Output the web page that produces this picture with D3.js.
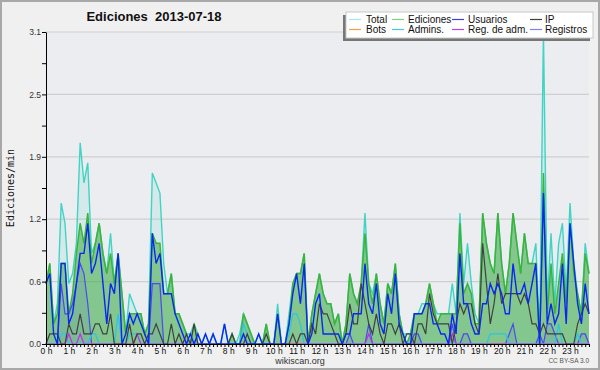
<!DOCTYPE html>
<html><head><meta charset="utf-8">
<script src="https://cdn.jsdelivr.net/npm/d3@7"></script>
<style>
html,body{margin:0;padding:0;background:#f0f0f0;}
svg{display:block;}
</style></head>
<body>
<script>
// ---- DATA (values in edits per minute; 10-minute bins, 144 per day) ----
const hourLabels = ["0 h","1 h","2 h","3 h","4 h","5 h","6 h","7 h","8 h","9 h","10 h","11 h","12 h","13 h","14 h","15 h","16 h","17 h","18 h","19 h","20 h","21 h","22 h","23 h"];
const yTickValues = [0, 0.62, 1.24, 1.86, 2.48, 3.1];
const yTickLabels = ["0.0","0.6","1.2","1.9","2.5","3.1"];
const legendLabels = ["Total","Ediciones","Usuarios","IP","Bots","Admins.","Reg. de adm.","Registros"];

const totalVals = [0.6,0.8,0.2,0.4,1.4,1.2, 0.6,0.7,1.0,2.0,1.6,1.8, 0.9,1.0,1.2,0.9,0.7,1.1, 0.6,0.9,0.5,0.1,0.5,0.4,
 0.3,0.3,0.1,0.2,1.7,1.6, 1.5,0.8,0.5,0.7,0.3,0.3, 0.2,0.1,0.1,0.2,0.1,0.0, 0.1,0.0,0.1,0.0,0.0,0.2,
 0.0,0.1,0.0,0.1,0.3,0.2, 0.1,0.0,0.1,0.0,0.2,0.0, 0.0,0.4,0.0,0.0,0.3,0.6, 0.7,0.7,0.9,0.0,0.3,0.5,
 0.7,0.5,0.4,0.4,0.2,0.3, 0.0,0.2,0.7,0.5,0.4,0.6, 1.3,0.6,0.5,0.7,0.4,0.2, 0.6,0.5,0.8,0.3,0.1,0.1,
 0.1,0.3,0.3,0.4,0.4,0.6, 0.4,0.3,0.3,0.3,0.3,0.6, 0.3,1.3,0.6,1.0,0.6,0.3, 0.2,1.3,1.0,0.8,0.7,1.3,
 0.8,0.5,0.8,1.3,1.0,0.7, 1.1,0.8,0.8,1.0,0.1,3.1, 0.4,1.1,0.4,1.0,1.2,0.5, 1.4,0.8,0.5,0.3,1.0,0.7];

const edicionesVals = [0.6,0.8,0.2,0.3,0.8,0.8, 0.3,0.5,0.9,1.2,1.0,1.3, 0.8,1.0,1.2,0.9,0.7,0.9, 0.6,0.9,0.5,0.1,0.3,0.3,
 0.3,0.3,0.1,0.2,1.1,1.0, 1.0,0.5,0.5,0.7,0.3,0.3, 0.2,0.1,0.0,0.2,0.0,0.0, 0.0,0.0,0.0,0.0,0.0,0.0,
 0.0,0.1,0.0,0.0,0.3,0.2, 0.1,0.0,0.0,0.0,0.2,0.0, 0.0,0.3,0.0,0.0,0.2,0.6, 0.7,0.7,0.9,0.0,0.3,0.5,
 0.7,0.5,0.4,0.4,0.2,0.3, 0.0,0.2,0.7,0.5,0.4,0.6, 1.1,0.6,0.4,0.7,0.4,0.2, 0.6,0.5,0.8,0.3,0.1,0.0,
 0.1,0.3,0.3,0.3,0.4,0.6, 0.4,0.2,0.3,0.3,0.3,0.3, 0.3,1.2,0.5,0.6,0.5,0.2, 0.2,1.3,1.0,0.8,0.7,1.3,
 0.8,0.5,0.8,1.3,1.0,0.7, 1.1,0.8,0.8,0.8,0.0,1.7, 0.3,0.8,0.3,0.6,0.9,0.4, 1.2,0.7,0.5,0.3,0.9,0.7];

const usuariosVals = [0.6,0.7,0.1,0.0,0.8,0.8, 0.2,0.3,0.6,0.9,0.9,1.2, 0.7,0.8,1.0,0.6,0.2,0.6, 0.5,0.9,0.0,0.1,0.3,0.2,
 0.3,0.2,0.1,0.0,1.1,0.8, 0.9,0.5,0.5,0.5,0.3,0.2, 0.1,0.0,0.1,0.0,0.1,0.0, 0.1,0.0,0.1,0.0,0.0,0.2,
 0.0,0.0,0.0,0.0,0.1,0.0, 0.0,0.0,0.1,0.0,0.0,0.0, 0.0,0.3,0.0,0.0,0.2,0.5, 0.7,0.4,0.8,0.0,0.1,0.4,
 0.5,0.1,0.1,0.1,0.1,0.1, 0.0,0.1,0.1,0.3,0.3,0.3, 0.8,0.4,0.3,0.6,0.2,0.1, 0.5,0.3,0.7,0.2,0.1,0.0,
 0.0,0.3,0.3,0.3,0.4,0.4, 0.2,0.2,0.1,0.1,0.0,0.3, 0.1,0.9,0.4,0.4,0.2,0.1, 0.1,0.4,0.4,0.6,0.5,0.6,
 0.5,0.3,0.3,0.8,0.5,0.5, 0.6,0.4,0.6,0.8,0.0,1.5, 0.2,0.4,0.2,0.3,0.8,0.2, 1.2,0.8,0.4,0.2,0.6,0.3];

const ipVals = [0.0,0.1,0.1,0.1,0.0,0.0, 0.2,0.1,0.1,0.3,0.1,0.1, 0.1,0.2,0.2,0.1,0.1,0.3, 0.0,0.0,0.0,0.0,0.2,0.0,
 0.1,0.1,0.0,0.1,0.1,0.2, 0.1,0.0,0.0,0.2,0.0,0.1, 0.0,0.1,0.0,0.2,0.0,0.0, 0.0,0.0,0.0,0.0,0.0,0.0,
 0.0,0.1,0.0,0.0,0.0,0.1, 0.0,0.0,0.0,0.0,0.1,0.0, 0.0,0.0,0.0,0.0,0.0,0.1, 0.0,0.1,0.1,0.0,0.2,0.1,
 0.4,0.3,0.3,0.2,0.1,0.0, 0.0,0.1,0.4,0.2,0.2,0.6, 0.4,0.2,0.1,0.3,0.1,0.0, 0.2,0.2,0.1,0.2,0.0,0.1,
 0.1,0.0,0.2,0.2,0.1,0.5, 0.3,0.2,0.2,0.2,0.2,0.0, 0.2,0.4,0.3,0.4,0.4,0.2, 0.1,1.0,0.6,0.2,0.4,0.7,
 0.4,0.5,0.5,0.5,0.5,0.4, 0.5,0.4,0.2,0.2,0.1,0.2, 0.1,0.1,0.1,0.1,0.1,0.0, 0.0,0.0,0.2,0.3,0.4,0.3];

const botsVals = new Array(144).fill(0);

const adminsVals = [0,0,0,0,0.1,0.1, 0,0,0,0,0,0, 0.1,0.1,0,0,0,0, 0,0.3,0,0,0.1,0.1,
 0.1,0,0,0,0,0, 0,0,0,0,0,0, 0,0,0,0,0,0, 0,0,0,0,0,0,
 0,0,0,0,0.2,0.1, 0,0,0,0,0,0, 0,0,0,0,0.1,0.3, 0.3,0.2,0,0,0,0,
 0,0,0,0,0,0, 0,0,0,0,0,0, 0,0,0,0,0,0, 0,0,0,0,0,0,
 0,0,0,0,0,0, 0,0,0,0,0,0, 0,0,0,0,0,0, 0,0,0,0.1,0.1,0.1,
 0.1,0.1,0,0,0,0, 0,0,0,0,0,0, 0,0,0,0.2,0,0, 0,0,0.1,0,0,0];

const regAdmVals = [0,0,0,0,0,0, 0.1,0,0,0.1,0,0, 0,0,0,0,0,0, 0,0,0,0,0,0,
 0.1,0,0,0,0,0, 0,0,0,0,0,0, 0,0,0,0,0,0, 0,0,0,0,0,0,
 0,0,0,0,0,0, 0,0,0,0,0,0, 0,0,0,0,0,0, 0,0,0,0,0,0,
 0,0,0,0,0,0, 0,0,0,0,0,0, 0,0.1,0,0,0,0, 0,0,0,0,0,0,
 0,0,0,0,0,0, 0,0,0,0,0,0.1, 0,0,0,0,0,0, 0,0,0,0,0,0,
 0,0,0,0,0,0, 0,0,0,0,0,0, 0,0,0,0,0,0, 0,0,0,0,0,0];

const registrosVals = [0,0,0,0,0.6,0.3, 0.3,0.4,0.6,0.8,0.7,0.4, 0,0,0,0,0,0, 0,0,0,0,0,0,
 0,0,0,0,0.6,0.6, 0.6,0,0,0,0,0, 0,0,0,0,0,0, 0,0,0,0,0,0,
 0,0,0,0,0,0, 0,0,0,0,0,0, 0,0,0,0,0,0, 0,0,0,0,0,0,
 0,0,0,0,0,0, 0,0,0.1,0,0,0, 0,0.2,0,0,0,0, 0,0,0,0,0,0,
 0,0.1,0.1,0,0,0, 0,0,0,0,0,0.2, 0,0,0.1,0.1,0,0, 0,0,0,0,0,0,
 0,0,0.1,0.2,0,0, 0,0,0,0,0.1,0, 0.2,0.2,0.1,0,0,0, 0,0,0,0.1,0.1,0];

// ---- STYLE ----
const W = 600, H = 370;
const plot = {left: 46, right: 589, top: 32, bottom: 344};
const legendColors = {
  "Total":"#a8e6e0","Ediciones":"#80d080","Usuarios":"#4040e0","IP":"#404040",
  "Bots":"#f0a040","Admins.":"#40c8e0","Reg. de adm.":"#c040e0","Registros":"#8080f0"
};

const svg = d3.select("body").append("svg").attr("width", W).attr("height", H);

svg.append("rect").attr("x",1).attr("y",1).attr("width",W-2).attr("height",H-2)
  .attr("fill","#f0f0f0").attr("stroke","#a8a8a8").attr("stroke-width",2);

const x = d3.scaleLinear().domain([0,143]).range([plot.left, plot.right]);
const y = d3.scaleLinear().domain([0,3.1]).range([plot.bottom, plot.top]);

svg.append("rect").attr("x",plot.left).attr("y",plot.top)
  .attr("width",plot.right-plot.left).attr("height",plot.bottom-plot.top).attr("fill","#ecedf0");

// grid
svg.append("g").selectAll("line").data(yTickValues.slice(1)).join("line")
  .attr("x1",plot.left).attr("x2",plot.right)
  .attr("y1",d=>y(d)).attr("y2",d=>y(d))
  .attr("stroke","#cfcfcf").attr("stroke-width",1.2);

const idx = d3.range(144);
const area = vals => d3.area().x(i=>x(i)).y0(y(0)).y1(i=>y(vals[i]))(idx);
const line = vals => d3.line().x(i=>x(i)).y(i=>y(vals[i]))(idx);

const g = svg.append("g");
// Total area
g.append("path").attr("d",area(totalVals)).attr("fill","rgba(64,208,190,0.13)");
g.append("path").attr("d",line(totalVals)).attr("fill","none").attr("stroke","#40d4c4").attr("stroke-width",1.4);
// Ediciones area
g.append("path").attr("d",area(edicionesVals)).attr("fill","rgba(50,165,50,0.5)");
g.append("path").attr("d",line(edicionesVals)).attr("fill","none").attr("stroke","#3cb43c").attr("stroke-width",1.5);
// Registros
g.append("path").attr("d",area(registrosVals)).attr("fill","rgba(70,70,230,0.10)");
g.append("path").attr("d",line(registrosVals)).attr("fill","none").attr("stroke","#4a4aec").attr("stroke-width",1.2);
// Bots
g.append("path").attr("d",line(botsVals)).attr("fill","none").attr("stroke","#f0a040").attr("stroke-width",1.2);
// Admins
g.append("path").attr("d",line(adminsVals)).attr("fill","none").attr("stroke","#30c4e4").attr("stroke-width",1.3);
// Reg. de adm.
g.append("path").attr("d",line(regAdmVals)).attr("fill","none").attr("stroke","#c030e0").attr("stroke-width",1.2);
// IP
g.append("path").attr("d",line(ipVals)).attr("fill","none").attr("stroke","#404040").attr("stroke-width",1.2);
// Usuarios
g.append("path").attr("d",line(usuariosVals)).attr("fill","none").attr("stroke","#0a28f0").attr("stroke-width",1.4);

// axes
const xAxis = d3.axisBottom(x).tickValues(idx)
  .tickFormat(i => i % 6 === 0 ? hourLabels[i/6] : "")
  .tickSizeInner(3).tickSizeOuter(0).tickPadding(1);
const gx = svg.append("g").attr("transform",`translate(0,${plot.bottom})`).call(xAxis);
gx.selectAll("text").attr("font-family","Liberation Sans, Arial, sans-serif").attr("font-size","8.5px").attr("fill","#111");
gx.select(".domain").attr("stroke","#000");
gx.selectAll(".tick line").attr("stroke","#000");

const yMinor = yTickValues.slice(0,-1).map((d,i)=> (d + yTickValues[i+1]) / 2);
const gyMinor = svg.append("g").attr("transform",`translate(${plot.left},0)`)
  .call(d3.axisLeft(y).tickValues(yMinor).tickFormat("").tickSizeInner(4).tickSizeOuter(0));
gyMinor.select(".domain").remove();
const gy = svg.append("g").attr("transform",`translate(${plot.left},0)`)
  .call(d3.axisLeft(y).tickValues(yTickValues).tickFormat((d,i)=>yTickLabels[i]).tickSizeInner(4).tickSizeOuter(0).tickPadding(1));
gy.selectAll("text").attr("font-family","Liberation Sans, Arial, sans-serif").attr("font-size","8.5px").attr("fill","#333");

// title
svg.append("text").attr("x",154).attr("y",21).attr("text-anchor","middle")
  .style("white-space","pre")
  .attr("font-family","Liberation Sans, Arial, sans-serif").attr("font-weight","bold").attr("font-size","13px")
  .attr("fill","#111").text("Ediciones  2013-07-18");

// y label
svg.append("text").attr("transform","translate(13.5,188) rotate(-90)").attr("text-anchor","middle")
  .attr("font-family","DejaVu Sans Mono, monospace").attr("font-size","10px").attr("fill","#111")
  .text("Ediciones/min");

// footer
svg.append("text").attr("x",300).attr("y",364).attr("text-anchor","middle")
  .attr("font-family","Liberation Sans, Arial, sans-serif").attr("font-size","9px").attr("fill","#333").text("wikiscan.org");
svg.append("text").attr("x",589).attr("y",363).attr("text-anchor","end")
  .attr("font-family","Liberation Sans, Arial, sans-serif").attr("font-size","6.5px").attr("fill","#555").text("CC BY-SA 3.0");

// legend
const lg = svg.append("g");
lg.append("rect").attr("x",343).attr("y",15).attr("width",247).attr("height",26).attr("fill","#777");
lg.append("rect").attr("x",346).attr("y",12).attr("width",247).attr("height",26).attr("fill","#fff").attr("stroke","#c8c8c8");
const colX = [349, 392, 452, 530];
const textX = [366, 408, 468, 545];
const rowY = [19.5, 29.5];
legendLabels.forEach((lab, k) => {
  const c = k % 4, r = Math.floor(k / 4);
  lg.append("line").attr("x1",colX[c]).attr("x2",colX[c]+12).attr("y1",rowY[r]).attr("y2",rowY[r])
    .attr("stroke",legendColors[lab]).attr("stroke-width",1.2);
  lg.append("text").attr("x",textX[c]).attr("y",rowY[r]+3.5)
    .attr("font-family","Liberation Sans, Arial, sans-serif").attr("font-size","10px").attr("fill","#111").text(lab);
});
</script>
</body></html>
